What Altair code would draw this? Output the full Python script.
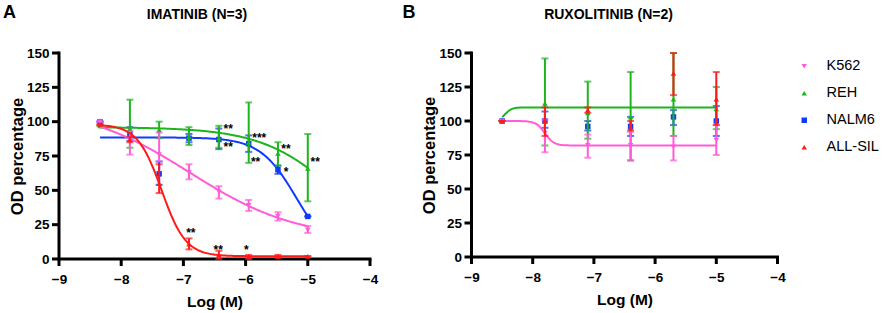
import altair as alt
import numpy as np
import pandas as pd

CELL_LINES = ["K562", "REH", "NALM6", "ALL-SIL"]
COLORS = ["#FF5CD9", "#1DB51D", "#0F3BFF", "#FF1A1A"]
SHAPES = ["triangle-down", "triangle-up", "square", "triangle-up"]
DRAW_ORDER = ["NALM6", "REH", "K562", "ALL-SIL"]

X_TICKS = [-9, -8, -7, -6, -5, -4]
Y_TICKS = [0, 25, 50, 75, 100, 125, 150]

# ---------------- Panel A : Imatinib ----------------
IMA_LOGM = [-8.34, -7.86, -7.39, -6.91, -6.43, -5.95, -5.48, -5.00]
IMA_MEAN = {
    "K562":    [100, 87, 76, 63, 49, 39, 31, 21],
    "REH":     [97, 95, 94, 89, 88, 85, 77, 66],
    "NALM6":   [100, 91, 62, 88, 87, 84, 65, 31],
    "ALL-SIL": [98, 87, 55, 11, 3, 2, 2, 2],
}
IMA_LOW = {
    "K562":    [100, 76, 71, 58, 44, 35, 28, 19],
    "REH":     [97, 81, 88, 83, 81, 70, 68, 42],
    "NALM6":   [100, 86, 54, 85, 80, 78, 62, 31],
    "ALL-SIL": [98, 85, 48, 7, 0, 0, 1, 2],
}
IMA_HIGH = {
    "K562":    [100, 93, 92, 69, 53, 43, 34, 24],
    "REH":     [97, 116, 100, 96, 97, 114, 85, 91],
    "NALM6":   [100, 96, 71, 91, 95, 90, 68, 31],
    "ALL-SIL": [98, 89, 69, 15, 6, 3, 3, 2],
}
# 4-parameter logistic fit: top, bottom, logIC50, hill (decreasing)
IMA_FIT_TOP = {"K562": 112, "REH": 96, "NALM6": 88.5, "ALL-SIL": 98}
IMA_FIT_BOTTOM = {"K562": 14, "REH": 0, "NALM6": 0, "ALL-SIL": 2}
IMA_FIT_LOGIC50 = {"K562": -6.9, "REH": -4.5, "NALM6": -5.18, "ALL-SIL": -7.35}
IMA_FIT_HILL = {"K562": 0.5, "REH": 0.7, "NALM6": 1.48, "ALL-SIL": 2.24}
IMA_FIT_RANGE = (-8.34, -5.0)

IMA_STARS_X = [-6.88, -6.44, -5.99, -6.28, -6.28, -5.78, -5.84, -5.35, -5.35, -4.88]
IMA_STARS_Y = [21, 9, 9, 97, 84, 90, 73, 82.5, 65.5, 73]
IMA_STARS_T = ["**", "**", "*", "**", "**", "***", "**", "**", "*", "**"]

# ---------------- Panel B : Ruxolitinib ----------------
RUX_LOGM = [-8.50, -7.80, -7.10, -6.40, -5.70, -5.00]
RUX_MEAN = {
    "K562":    [100, 91, 82, 82, 81, 86],
    "REH":     [100, 113, 106, 103, 116, 109],
    "NALM6":   [100, 100, 96, 96, 103, 100],
    "ALL-SIL": [100, 100, 108, 95, 135, 116],
}
RUX_LOW = {
    "K562":    [100, 77, 73, 71, 71, 75],
    "REH":     [100, 82, 87, 71, 89, 94],
    "NALM6":   [100, 95, 93, 89, 97, 89],
    "ALL-SIL": [100, 89, 106, 93, 119, 97],
}
RUX_HIGH = {
    "K562":    [100, 101, 90, 92, 89, 97],
    "REH":     [100, 146, 129, 136, 150, 125],
    "NALM6":   [100, 107, 100, 103, 108, 111],
    "ALL-SIL": [100, 110, 110, 100, 150, 136],
}
RUX_FIT_TOP = {"K562": 100, "REH": 100}
RUX_FIT_BOTTOM = {"K562": 82, "REH": 110}
RUX_FIT_LOGIC50 = {"K562": -7.8, "REH": -8.45}
RUX_FIT_HILL = {"K562": 6, "REH": 8}
RUX_FIT_RANGE = (-8.5, -5.0)

FONT = "Liberation Sans"
X_SCALE = alt.Scale(domain=[-9, -4], nice=False)
Y_SCALE = alt.Scale(domain=[0, 150], nice=False)
COLOR_SCALE = alt.Scale(domain=CELL_LINES, range=COLORS)
SHAPE_SCALE = alt.Scale(domain=CELL_LINES, range=SHAPES)

AXIS_STYLE = dict(domain=False, ticks=False, tickSize=0,
                  labelFont=FONT, labelFontWeight="bold", labelFontSize=13.5,
                  labelColor="black", titleFont=FONT,
                  titleFontWeight="bold", titleColor="black", grid=False,
                  labelFlush=False)


def fit_curve(top, bottom, logic50, hill, rng):
    xs = np.linspace(rng[0], rng[1], 160)
    ys = bottom + (top - bottom) / (1 + 10 ** ((xs - logic50) * hill))
    return pd.DataFrame({"x": xs, "y": ys})


def x_enc(field="x"):
    return alt.X(f"{field}:Q", scale=X_SCALE,
                 axis=alt.Axis(values=X_TICKS, title="Log (M)", labelPadding=13,
                               format="d", titleFontSize=15.5, titlePadding=9,
                               **AXIS_STYLE))


def y_enc(field="y"):
    return alt.Y(f"{field}:Q", scale=Y_SCALE,
                 axis=alt.Axis(values=Y_TICKS, title="OD percentage", labelPadding=10,
                               titleFontSize=16.5, titlePadding=1.3, **AXIS_STYLE))


def axis_lines(w, h):
    """Thick black axis lines and outward ticks, drawn through the scales."""
    ink = dict(color="#000000", strokeWidth=3, opacity=1)
    ydom = alt.Chart(pd.DataFrame({"v": [0]})).mark_rule(**ink).encode(
        x=alt.value(0), y=alt.value(-1.5), y2=alt.value(h))
    xdom = alt.Chart(pd.DataFrame({"v": [0]})).mark_rule(**ink).encode(
        y=alt.value(h), x=alt.value(-1.5), x2=alt.value(w + 1.5))
    yt = alt.Chart(pd.DataFrame({"v": Y_TICKS})).mark_rule(**ink).encode(
        y=y_enc("v"), x=alt.value(-7), x2=alt.value(0))
    xt = alt.Chart(pd.DataFrame({"v": X_TICKS})).mark_rule(**ink).encode(
        x=x_enc("v"), y=alt.value(h), y2=alt.value(h + 7))
    return [ydom, xdom, yt, xt]


def panel(logm, mean, low, high, fit_top, fit_bottom, fit_ic, fit_hill, rng,
          w, h, letter, title, letter_dx, title_cx):
    layers = axis_lines(w, h)
    for name in DRAW_ORDER:
        col = COLORS[CELL_LINES.index(name)]
        if name in fit_top:
            cdf = fit_curve(fit_top[name], fit_bottom[name], fit_ic[name],
                            fit_hill[name], rng)
            layers.append(alt.Chart(cdf).mark_line(color=col, strokeWidth=2)
                          .encode(x=x_enc(), y=y_enc()))
        df = pd.DataFrame({"x": logm, "mean": mean[name], "low": low[name],
                           "high": high[name], "line": name})
        base = alt.Chart(df)
        layers.append(base.mark_rule(color=col, strokeWidth=2)
                      .encode(x=x_enc(), y=y_enc("low"), y2="high:Q"))
        layers.append(base.mark_tick(color=col, thickness=2, size=7, orient="horizontal")
                      .encode(x=x_enc(), y=y_enc("low")))
        layers.append(base.mark_tick(color=col, thickness=2, size=7, orient="horizontal")
                      .encode(x=x_enc(), y=y_enc("high")))
        layers.append(base.mark_point(filled=True, opacity=1, size=30)
                      .encode(x=x_enc(), y=y_enc("mean"),
                              color=alt.Color("line:N", scale=COLOR_SCALE,
                                              legend=alt.Legend(title=None)),
                              shape=alt.Shape("line:N", scale=SHAPE_SCALE,
                                              legend=alt.Legend(title=None))))
    # panel letter and title
    ann = pd.DataFrame({"t": [letter]})
    layers.append(alt.Chart(ann).mark_text(font=FONT, fontWeight="bold", fontSize=18,
                                           align="left", baseline="alphabetic")
                  .encode(text="t:N", x=alt.value(letter_dx), y=alt.value(-35)))
    tdf = pd.DataFrame({"t": [title]})
    layers.append(alt.Chart(tdf).mark_text(font=FONT, fontWeight="bold", fontSize=14,
                                           align="center", baseline="alphabetic")
                  .encode(text="t:N", x=alt.value(title_cx), y=alt.value(-34)))
    return alt.layer(*layers).properties(width=w, height=h)


left = panel(IMA_LOGM, IMA_MEAN, IMA_LOW, IMA_HIGH, IMA_FIT_TOP, IMA_FIT_BOTTOM,
             IMA_FIT_LOGIC50, IMA_FIT_HILL, IMA_FIT_RANGE, 311, 206,
             "A", "IMATINIB (N=3)", -56, 138)
stars = pd.DataFrame({"x": IMA_STARS_X, "y": IMA_STARS_Y, "t": IMA_STARS_T})
left = alt.layer(left, alt.Chart(stars).mark_text(font=FONT, fontWeight="bold",
                                                  fontSize=12, baseline="middle", dy=3)
                 .encode(x=x_enc(), y=y_enc(), text="t:N"))

right = panel(RUX_LOGM, RUX_MEAN, RUX_LOW, RUX_HIGH, RUX_FIT_TOP, RUX_FIT_BOTTOM,
              RUX_FIT_LOGIC50, RUX_FIT_HILL, RUX_FIT_RANGE, 306, 204,
              "B", "RUXOLITINIB (N=2)", -69, 137)

chart = alt.hconcat(left, right, spacing=24.5).configure(
    padding={"left": 3, "top": 4, "right": 0, "bottom": 0}
).configure_view(stroke=None).configure_legend(
    orient="none", legendX=738, legendY=6, labelFont=FONT, labelFontSize=14.5,
    labelColor="black", symbolSize=30, rowPadding=12, labelOffset=15,
    symbolStrokeWidth=0
)

chart.save("out.html", embed_options={"renderer": "svg", "actions": False})
